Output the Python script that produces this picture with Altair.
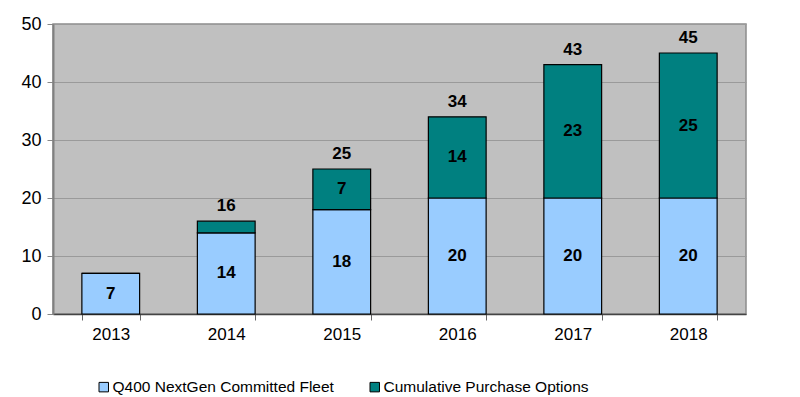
import altair as alt
import pandas as pd

years = ["2013", "2014", "2015", "2016", "2017", "2018"]
committed = [7, 14, 18, 20, 20, 20]
options = [0, 2, 7, 14, 23, 25]
series_names = ["Q400 NextGen Committed Fleet", "Cumulative Purchase Options"]
series_colors = ["#99CCFF", "#008080"]

rows = []
for i, y in enumerate(years):
    rows.append({"year": y, "series": series_names[0], "value": committed[i], "ord": 0})
    rows.append({"year": y, "series": series_names[1], "value": options[i], "ord": 1})
df = pd.DataFrame(rows)

totals = pd.DataFrame({
    "year": years,
    "total": [c + o for c, o in zip(committed, options)],
    "opt": options,
})

FONT = "Liberation Sans"

x_enc = alt.X(
    "year:N",
    sort=years,
    scale=alt.Scale(paddingInner=0.5, paddingOuter=0.25),
    axis=alt.Axis(
        title=None, labelAngle=0, labelFontSize=17, labelColor="#000",
        labelFont=FONT, tickBand="extent", tickSize=6, tickColor="#666",
        domainColor="#444", domainWidth=1.5, labelPadding=6,
    ),
)

bars = alt.Chart(df).mark_bar(stroke="#000", strokeWidth=1.2).encode(
    x=x_enc,
    y=alt.Y(
        "value:Q",
        stack="zero",
        scale=alt.Scale(domain=[0, 50]),
        axis=alt.Axis(
            title=None, values=[0, 10, 20, 30, 40, 50], labelFontSize=18,
            labelFont=FONT, labelColor="#000", tickSize=6, tickColor="#888",
            domainColor="#808080", domainWidth=2, gridColor="#9a9a9a",
            gridWidth=1, labelPadding=6,
        ),
    ),
    color=alt.Color(
        "series:N",
        scale=alt.Scale(domain=series_names, range=series_colors),
        legend=alt.Legend(
            title=None, orient="none", direction="horizontal",
            legendX=43, legendY=355, symbolType="square", symbolSize=90,
            symbolStrokeColor="#000", symbolStrokeWidth=1,
            labelFontSize=15.5, labelFont=FONT, labelColor="#000",
            columnPadding=33, labelOffset=1, labelLimit=400,
        ),
    ),
    order=alt.Order("ord:Q"),
)

seg_labels = alt.Chart(df).transform_stack(
    stack="value", groupby=["year"], sort=[alt.SortField("ord")], as_=["y0", "y1"]
).transform_filter(
    alt.datum.value >= 5
).transform_calculate(
    mid="(datum.y0 + datum.y1) / 2"
).mark_text(
    fontSize=17, fontWeight="bold", font=FONT, color="#000", baseline="middle"
).encode(
    x=alt.X("year:N", sort=years),
    y=alt.Y("mid:Q"),
    text=alt.Text("value:Q"),
)

total_labels = alt.Chart(totals).transform_filter(
    alt.datum.opt > 0
).mark_text(
    fontSize=17, fontWeight="bold", font=FONT, color="#000",
    baseline="bottom", dy=-6,
).encode(
    x=alt.X("year:N", sort=years),
    y=alt.Y("total:Q"),
    text=alt.Text("total:Q"),
)

chart = alt.layer(bars, seg_labels, total_labels).properties(
    width=693,
    height=290,
    background="white",
    autosize=alt.AutoSizeParams(type="none"),
    padding={"left": 45, "top": 16, "right": 40, "bottom": 90},
).configure_view(
    fill="#C0C0C0", stroke="#8c8c8c", strokeWidth=1.5,
)

chart.save("out.html", embed_options={"renderer": "svg", "actions": False})
